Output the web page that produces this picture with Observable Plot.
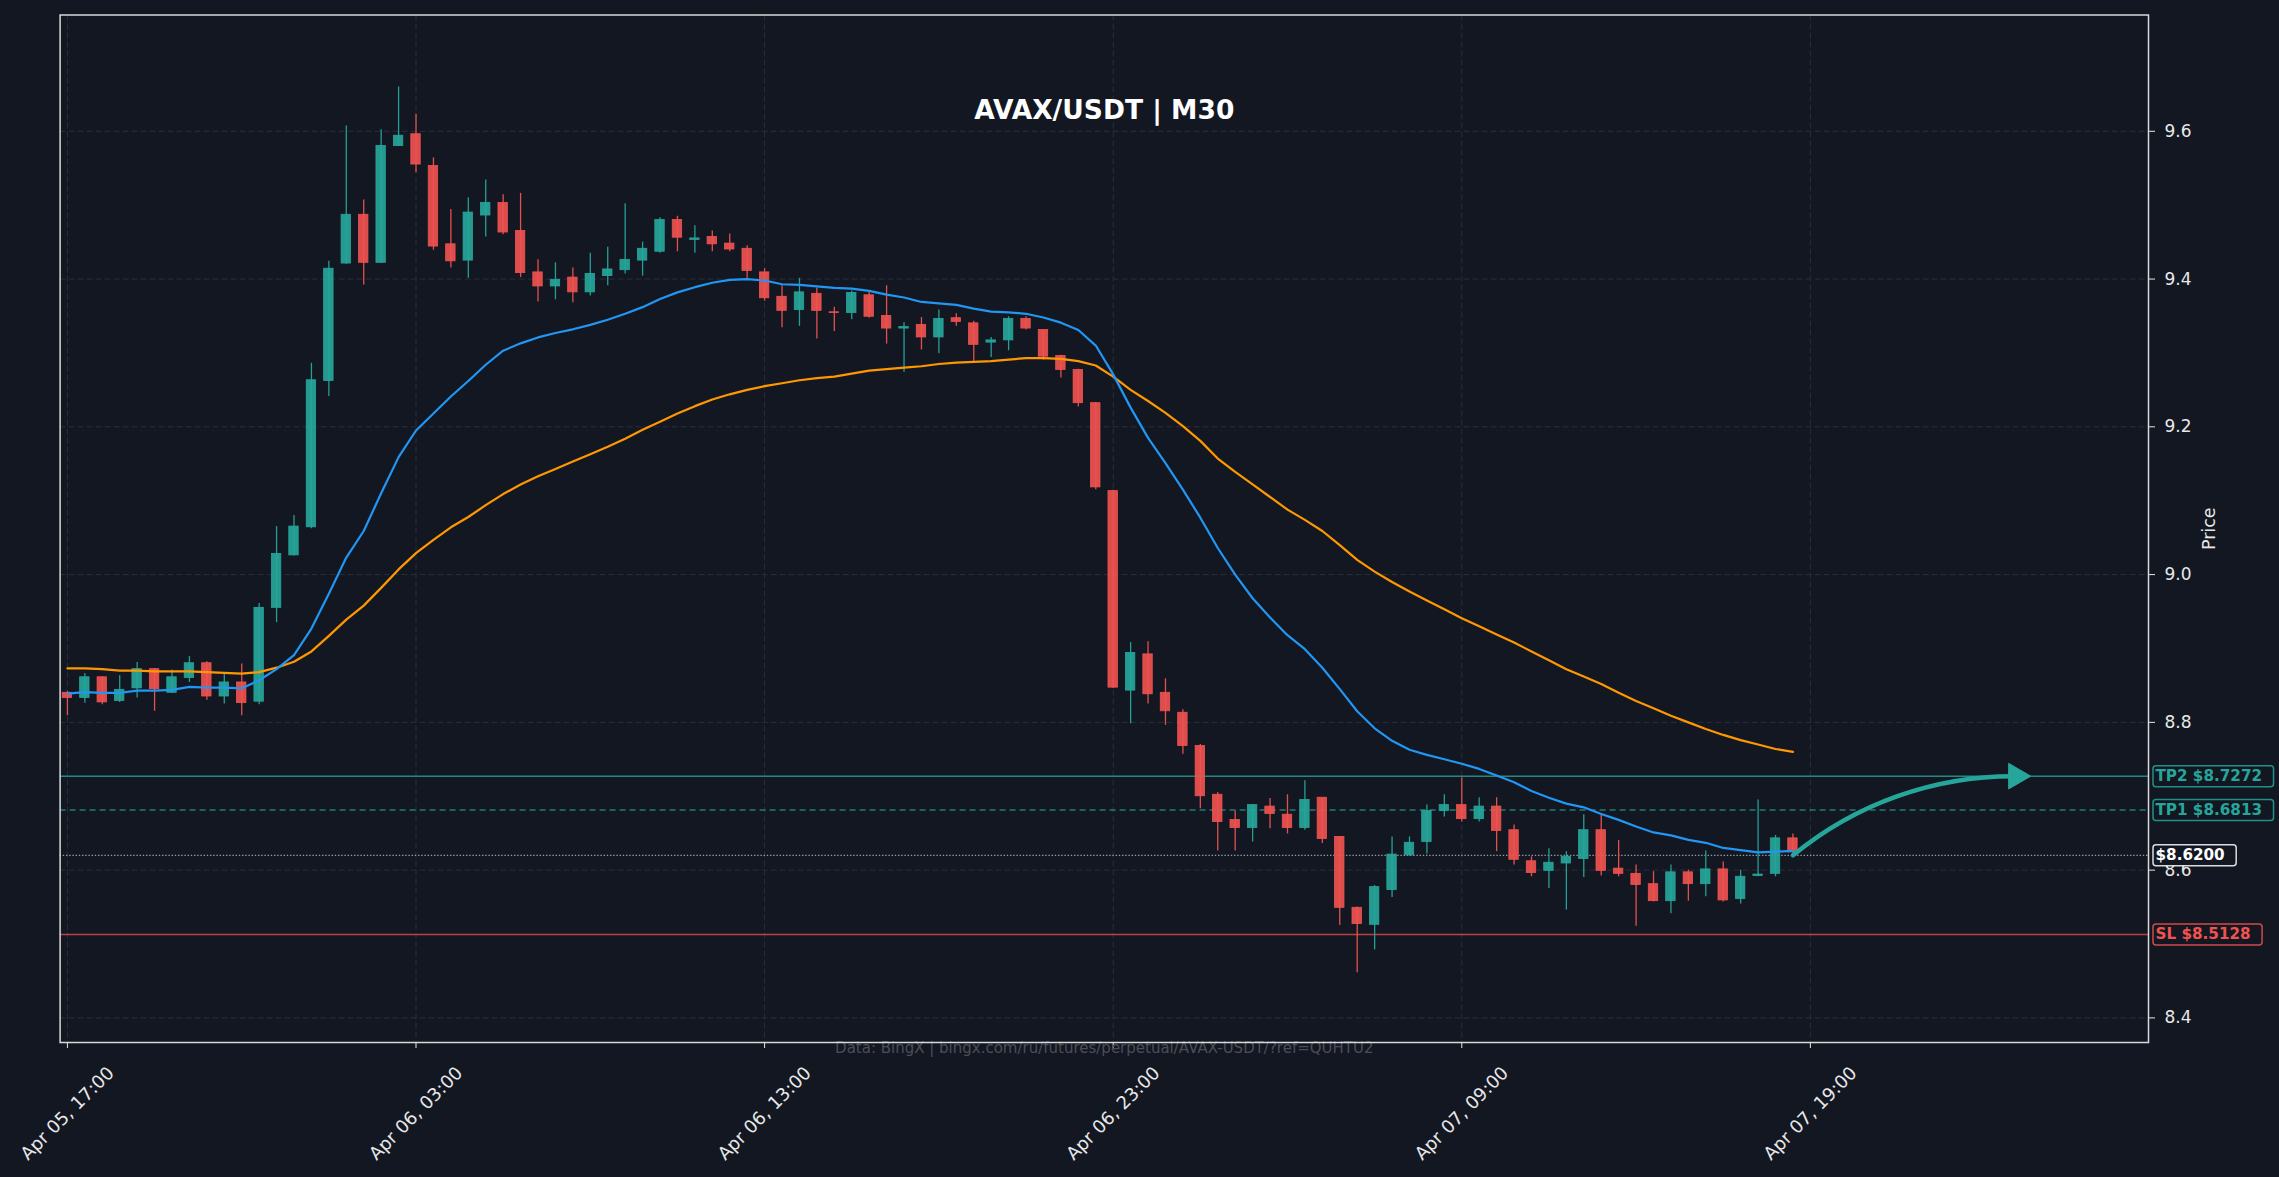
<!DOCTYPE html>
<html><head><meta charset="utf-8">
<script src="https://cdn.jsdelivr.net/npm/d3@7"></script>
<script src="https://cdn.jsdelivr.net/npm/@observablehq/plot@0.6"></script>
<style>
html,body{margin:0;padding:0;background:#131722;overflow:hidden;}
#chart{width:2279px;height:1177px;}
</style></head>
<body><div id="chart"></div>
<script>
// ---- data (30-minute bars, index 0 = Apr 05 17:00) ----
const opens = [8.840,8.833,8.861,8.829,8.846,8.872,8.840,8.860,8.880,8.835,
  8.854,8.828,8.955,9.026,9.064,9.262,9.421,9.487,9.422,9.580,
  9.596,9.553,9.447,9.425,9.486,9.503,9.465,9.409,9.390,9.402,
  9.382,9.404,9.412,9.425,9.437,9.480,9.453,9.457,9.448,9.441,
  9.409,9.376,9.358,9.380,9.355,9.354,9.378,9.350,9.333,9.338,
  9.321,9.347,9.340,9.314,9.317,9.346,9.331,9.296,9.277,9.232,
  9.113,8.843,8.892,8.840,8.813,8.768,8.702,8.668,8.657,8.686,
  8.675,8.657,8.698,8.645,8.549,8.526,8.573,8.620,8.638,8.680,
  8.688,8.669,8.686,8.654,8.612,8.599,8.609,8.615,8.654,8.602,
  8.595,8.581,8.558,8.597,8.581,8.601,8.561,8.592,8.595,8.643];
const highs = [8.842,8.866,8.862,8.863,8.881,8.873,8.871,8.889,8.882,8.866,
  8.879,8.961,9.065,9.080,9.286,9.424,9.607,9.507,9.602,9.660,
  9.623,9.564,9.494,9.510,9.534,9.514,9.516,9.426,9.422,9.415,
  9.435,9.443,9.502,9.450,9.483,9.485,9.472,9.465,9.461,9.445,
  9.414,9.391,9.401,9.388,9.362,9.384,9.383,9.391,9.341,9.348,
  9.358,9.353,9.343,9.321,9.349,9.349,9.331,9.297,9.278,9.233,
  9.114,8.908,8.909,8.859,8.817,8.770,8.705,8.680,8.688,8.697,
  8.702,8.721,8.698,8.645,8.550,8.579,8.645,8.645,8.688,8.702,
  8.725,8.698,8.698,8.661,8.618,8.629,8.625,8.675,8.676,8.640,
  8.607,8.598,8.607,8.600,8.626,8.611,8.600,8.695,8.647,8.649];
const lows = [8.809,8.826,8.824,8.827,8.833,8.815,8.839,8.854,8.830,8.825,
  8.809,8.824,8.935,9.025,9.062,9.241,9.420,9.392,9.421,9.580,
  9.544,9.439,9.415,9.401,9.457,9.460,9.402,9.369,9.372,9.368,
  9.377,9.391,9.407,9.404,9.435,9.437,9.435,9.437,9.437,9.398,
  9.370,9.334,9.336,9.319,9.329,9.345,9.347,9.312,9.274,9.304,
  9.299,9.336,9.288,9.294,9.303,9.331,9.290,9.266,9.227,9.115,
  8.846,8.798,8.825,8.796,8.757,8.683,8.626,8.626,8.638,8.656,
  8.649,8.654,8.636,8.525,8.461,8.492,8.563,8.619,8.622,8.672,
  8.665,8.665,8.625,8.607,8.591,8.575,8.546,8.590,8.592,8.591,
  8.524,8.557,8.541,8.558,8.564,8.557,8.554,8.591,8.591,8.617];
const closes = [8.833,8.861,8.827,8.844,8.872,8.845,8.861,8.880,8.835,8.854,
  8.826,8.955,9.028,9.065,9.263,9.414,9.487,9.422,9.580,9.594,
  9.555,9.444,9.424,9.490,9.503,9.463,9.408,9.390,9.399,9.382,
  9.407,9.413,9.426,9.441,9.480,9.456,9.455,9.447,9.440,9.411,
  9.374,9.357,9.382,9.357,9.354,9.381,9.349,9.333,9.335,9.321,
  9.346,9.342,9.311,9.317,9.346,9.333,9.295,9.277,9.232,9.118,
  8.847,8.894,8.838,8.815,8.768,8.700,8.665,8.657,8.688,8.676,
  8.657,8.695,8.642,8.549,8.527,8.577,8.621,8.637,8.680,8.688,
  8.669,8.686,8.653,8.614,8.596,8.610,8.618,8.654,8.599,8.595,
  8.580,8.558,8.597,8.581,8.601,8.559,8.591,8.594,8.643,8.624];
// fast (blue) and slow (orange) moving averages, one reading per bar
const maFast = [8.839,8.841,8.840,8.840,8.843,8.843,8.844,8.848,8.847,8.847,
  8.846,8.857,8.872,8.891,8.927,8.974,9.023,9.059,9.110,9.159,
  9.195,9.218,9.241,9.262,9.284,9.303,9.313,9.321,9.327,9.332,
  9.338,9.345,9.353,9.362,9.373,9.382,9.389,9.395,9.399,9.400,
  9.398,9.393,9.392,9.390,9.388,9.387,9.384,9.379,9.375,9.369,
  9.367,9.365,9.360,9.356,9.355,9.353,9.348,9.341,9.331,9.310,
  9.271,9.226,9.185,9.151,9.115,9.077,9.036,9.000,8.968,8.942,
  8.918,8.899,8.874,8.845,8.815,8.792,8.775,8.763,8.756,8.750,
  8.744,8.737,8.728,8.719,8.707,8.698,8.690,8.685,8.676,8.668,
  8.659,8.651,8.647,8.641,8.637,8.630,8.627,8.624,8.625,8.626];
const maSlow = [8.873,8.873,8.872,8.870,8.870,8.869,8.869,8.869,8.868,8.867,
  8.866,8.868,8.874,8.882,8.896,8.917,8.939,8.958,8.982,9.007,
  9.029,9.047,9.064,9.078,9.094,9.109,9.122,9.133,9.143,9.153,
  9.163,9.173,9.184,9.196,9.207,9.218,9.228,9.237,9.244,9.250,
  9.255,9.259,9.263,9.266,9.268,9.272,9.276,9.278,9.280,9.282,
  9.285,9.287,9.288,9.289,9.291,9.293,9.293,9.292,9.289,9.283,
  9.268,9.250,9.235,9.219,9.201,9.181,9.157,9.139,9.122,9.105,
  9.088,9.074,9.059,9.040,9.020,9.004,8.990,8.977,8.965,8.953,
  8.941,8.930,8.919,8.908,8.896,8.884,8.872,8.862,8.852,8.840,
  8.829,8.819,8.809,8.800,8.791,8.783,8.776,8.770,8.764,8.760];
const tickIndex = [0, 20, 40, 60, 80, 100];
const tickLabels = ["Apr 05, 17:00","Apr 06, 03:00","Apr 06, 13:00","Apr 06, 23:00","Apr 07, 09:00","Apr 07, 19:00"];
const yTicks = [8.4, 8.6, 8.8, 9.0, 9.2, 9.4, 9.6];
const levelNames = ["TP2", "TP1", "", "SL"];
const levelValues = [8.7272, 8.6813, 8.6200, 8.5128];
const projectionIndex = [99, 111.8];          // arrow from last bar toward TP2
const titleText = "AVAX/USDT | M30";
const sourceText = "Data: BingX | bingx.com/ru/futures/perpetual/AVAX-USDT/?ref=QUHTU2";

// ---- styles ----
const UP = "#26a69a", DOWN = "#ef5350", BG = "#131722", FG = "#e8e8e8", GRID = "#2a2e39";
const levelStyle = [
  {color: UP, dash: null, width: 1.5, opacity: 0.8, text: UP},
  {color: UP, dash: "6,4", width: 1.5, opacity: 0.7, text: UP},
  {color: "#b8bcc4", dash: "1.4,1.8", width: 1.3, opacity: 0.8, text: "#ffffff"},
  {color: DOWN, dash: null, width: 1.5, opacity: 0.75, text: DOWN}
];
const half = 0.27;

const candles = opens.map((o, i) => ({i, open: o, high: highs[i], low: lows[i], close: closes[i]}));
const up = candles.filter(d => d.close >= d.open);
const down = candles.filter(d => d.close < d.open);
const fast = maFast.map((v, i) => ({i, v}));
const slow = maSlow.map((v, i) => ({i, v}));
const levels = levelValues.map((v, k) => ({value: v, label: (levelNames[k] ? levelNames[k] + " " : "") + "$" + v.toFixed(4), k}));
const xTicks = tickIndex.map((t, k) => ({i: t, label: tickLabels[k]}));
const proj = [{x1: projectionIndex[0], y1: levelValues[2], x2: projectionIndex[1], y2: levelValues[0]}];

const marks = [
  Plot.gridY(yTicks, {stroke: GRID, strokeOpacity: 1, strokeWidth: 1, strokeDasharray: "6,3"}),
  Plot.gridX(tickIndex, {stroke: GRID, strokeOpacity: 1, strokeWidth: 1, strokeDasharray: "6,3"}),
];
levels.forEach((l, k) => {
  const s = levelStyle[k];
  marks.push(Plot.ruleY([l.value], {stroke: s.color, strokeWidth: s.width, strokeOpacity: s.opacity, strokeDasharray: s.dash || undefined}));
});
[[up, UP], [down, DOWN]].forEach(([data, c]) => {
  marks.push(Plot.ruleX(data, {x: "i", y1: "low", y2: "high", stroke: c, strokeWidth: 1.3, strokeOpacity: 0.95}));
  marks.push(Plot.rect(data, {x1: d => d.i - half, x2: d => d.i + half, y1: "open", y2: "close", fill: c, fillOpacity: 0.92, stroke: c, strokeWidth: 0.8}));
});
marks.push(
  Plot.line(slow, {x: "i", y: "v", stroke: "#ff9800", strokeWidth: 2.2}),
  Plot.line(fast, {x: "i", y: "v", stroke: "#2196f3", strokeWidth: 2.2}),
  Plot.arrow(proj, {x1: "x1", y1: "y1", x2: "x2", y2: "y2", bend: 20, headLength: 0, stroke: UP, strokeWidth: 4.5}),
  Plot.dot(proj, {x: "x2", y: "y2", symbol: "triangle", r: 9.5, rotate: 90, fill: UP, stroke: UP, strokeWidth: 1}),
  Plot.axisY(yTicks, {anchor: "right", tickSize: 6, tickPadding: 10, tickFormat: d => d.toFixed(1), fontSize: 17, label: null}),
  Plot.axisX(tickIndex, {anchor: "bottom", tickSize: 6, tickFormat: () => "", label: null}),
  Plot.text(xTicks, {x: "i", text: "label", frameAnchor: "bottom", dy: 71, rotate: -45, textAnchor: "middle", lineAnchor: "middle", fontSize: 18, fill: FG}),
  Plot.text(["Price"], {text: d => d, frameAnchor: "right", dx: 61, rotate: -90, textAnchor: "middle", lineAnchor: "middle", fontSize: 17.5, fill: FG}),
  Plot.text([titleText], {text: d => d, frameAnchor: "top", dy: 95.5, textAnchor: "middle", lineAnchor: "middle", fontSize: 26.5, fontWeight: "bold", fill: "#ffffff"}),
  Plot.text([sourceText], {text: d => d, frameAnchor: "bottom", dy: 5.5, textAnchor: "middle", lineAnchor: "middle", fontSize: 15, fill: "#4a4e59"})
);
levels.forEach((l, k) => {
  marks.push(Plot.text([l], {y: "value", text: "label", frameAnchor: "right", textAnchor: "start", dx: 7, lineAnchor: "middle", fontSize: 15.2, fontWeight: "bold", fill: levelStyle[k].text}));
});
marks.push(Plot.frame({stroke: "#d9d9d9", strokeWidth: 1.5}));

const chart = Plot.plot({
  width: 2279, height: 1177,
  marginLeft: 59.6, marginRight: 131, marginTop: 14.5, marginBottom: 135,
  style: {background: BG, color: FG, fontFamily: "DejaVu Sans", fontSize: "17px"},
  x: {domain: [-0.42, 119.4], axis: null},
  y: {domain: [8.3667, 9.7574], axis: null},
  marks
});
document.getElementById("chart").append(chart);

// boxes behind the level labels
const svgRect = chart.getBoundingClientRect();
const yScale = chart.scale("y");
const NS = "http://www.w3.org/2000/svg";
const allTexts = Array.from(chart.querySelectorAll("text"));
levels.forEach((l, k) => {
  const t = allTexts.find(el => el.textContent === l.label);
  if (!t) return;
  const r = t.getBoundingClientRect();
  const cy = yScale.apply(l.value);
  const rect = document.createElementNS(NS, "rect");
  rect.setAttribute("x", r.left - svgRect.left - 10);
  rect.setAttribute("y", cy - 10.5);
  rect.setAttribute("width", r.width + 14);
  rect.setAttribute("height", 21);
  rect.setAttribute("rx", 3);
  rect.setAttribute("fill", BG);
  rect.setAttribute("stroke", levelStyle[k].text);
  rect.setAttribute("stroke-width", 1.5);
  rect.setAttribute("stroke-opacity", 0.85);
  t.parentNode.insertBefore(rect, t);
});
// frame on top
const frame = chart.querySelector('[aria-label="frame"]');
if (frame) chart.appendChild(frame);
</script>
</body></html>
